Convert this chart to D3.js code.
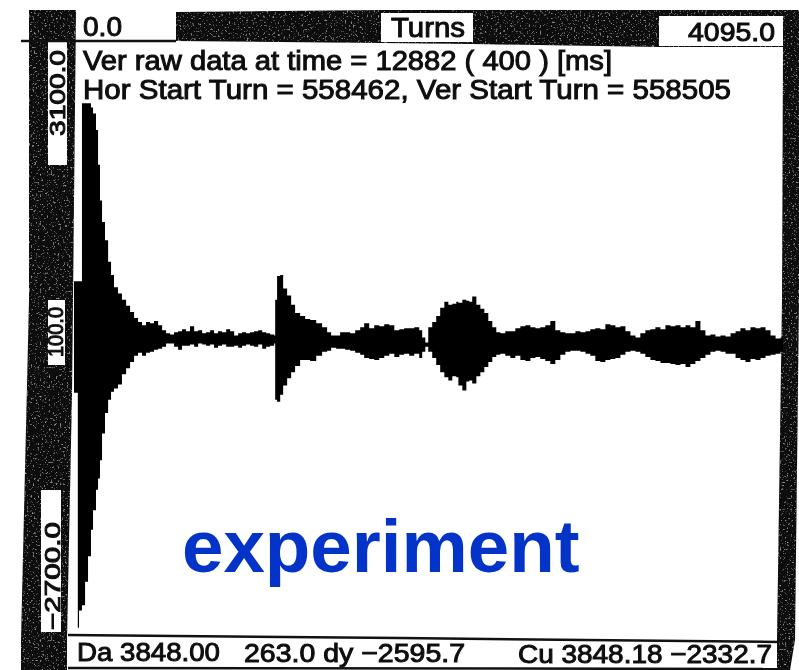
<!DOCTYPE html>
<html lang="en">
<head>
<meta charset="utf-8">
<style>
	html, body { margin: 0; padding: 0; background: #fff; }
	svg { display: block; }
	.scan { font-family: "Liberation Sans", Arial, sans-serif; fill: #111; stroke: #111; stroke-width: 1px; }
	.big { font-family: "Liberation Sans", Arial, sans-serif; font-weight: bold; fill: #0433c8; }
</style>
<script src="https://d3js.org/d3.v7.min.js"></script>
</head>
<body>
<script>
var width = 799, height = 670;

// turns, upper and lower edge of the trace
var turns = [0,22,29,46,64,81,98,110,127,139,150,162,179,197,214,231,254,277,301,324,347,370,393,416,439,462,486,509,532,555,578,601,624,647,670,694,717,740,763,786,809,832,855,879,902,925,948,971,994,1017,1040,1064,1087,1110,1133,1156,
	1162,1173,1191,1208,1231,1254,1277,1306,1335,1364,1399,1433,1462,1485,1514,1537,1566,1595,1624,1653,1676,1705,1734,1763,1792,1821,1850,1879,1907,1936,1965,1994,
	2011,2029,2046,2069,2092,2115,2139,2162,2185,2208,2220,2243,2266,2283,2300,2324,2347,2370,2393,2416,2439,2462,2491,2520,2549,2578,2607,2636,2665,2693,2722,2751,2780,2809,2838,2867,2896,2925,2954,2982,3011,3040,3069,3098,3127,3156,3185,3214,3243,3271,3300,3329,3358,3387,3416,3445,3474,3503,3532,3560,3589,3618,3647,3676,3705,3734,3763,3792,3821,3849,3878,3907,3936,3965,3994,4023,4052,4081,4095];
var upper = [770,770,770,2510,2510,2510,2470,2410,2250,1910,1560,1350,1170,960,830,710,650,590,530,470,410,370,340,370,360,380,340,290,260,250,270,280,300,280,330,280,290,260,270,290,260,280,270,300,280,240,260,270,260,270,280,290,270,260,250,240,
	590,820,830,700,630,540,460,430,400,390,360,320,270,240,240,270,270,260,290,320,360,310,340,330,350,340,290,300,310,310,320,290,220,
	170,320,370,430,510,570,540,550,570,560,590,580,570,620,540,500,460,380,320,270,260,280,280,310,330,340,320,310,320,340,380,290,270,260,260,280,270,280,300,310,300,350,340,320,330,280,240,220,260,290,300,320,300,340,330,340,320,340,320,380,290,240,250,230,240,230,260,280,310,290,320,310,320,290,240,210,220,190,190];
var lower = [-320,-2620,-2450,-2400,-2170,-1920,-1660,-1470,-1270,-1160,-980,-720,-520,-390,-310,-280,-240,-140,-80,-20,40,70,40,70,80,100,110,130,160,160,130,100,140,140,150,130,160,150,140,150,120,140,150,130,130,140,120,140,150,140,130,150,110,130,140,160,
	-390,-410,-340,-250,-180,-120,-60,0,0,-10,40,80,90,120,110,110,100,90,70,50,20,10,0,20,40,60,30,50,60,40,60,20,80,
	130,80,20,-50,-120,-170,-200,-160,-170,-250,-300,-210,-200,-230,-160,-120,-70,-20,30,50,60,40,20,40,0,-10,20,30,10,-10,-40,0,50,80,90,90,80,60,40,-10,-20,0,10,20,50,80,90,80,60,30,0,-10,-30,-30,-40,-50,-40,-70,-40,-10,20,50,80,90,80,60,60,20,0,-20,10,0,20,40,50,60,80,70,70];

var plainTexts = ["Ver raw data at time = 12882 ( 400 ) [ms]", "Hor Start Turn = 558462, Ver Start Turn = 558505"];
var xLabels = ["0.0", "Turns", "4095.0"];
var yLabels = ["3100.0", "100.0", "\u22122700.0"];
var bottomTexts = ["Da 3848.00", "263.0 dy \u22122595.7", "Cu 3848.18 \u22122332.7"];
var title = "experiment";

var x = d3.scaleLinear().domain([0, 4095]).range([74, 783]);
var y = d3.scaleLinear().domain([-2700, 3100]).range([636, 43]);

var svg = d3.select("body").append("svg")
	.attr("width", width)
	.attr("height", height);

// rough photocopy look for the dark frame
var defs = svg.append("defs");
var speckle = defs.append("filter").attr("id", "speckle")
	.attr("x", 0).attr("y", 0).attr("width", 1).attr("height", 1);
speckle.append("feTurbulence").attr("type", "fractalNoise").attr("baseFrequency", 0.55).attr("numOctaves", 2).attr("seed", 4).attr("result", "n");
speckle.append("feColorMatrix").attr("in", "n").attr("type", "matrix")
	.attr("values", "0 0 0 0 0.5  0 0 0 0 0.5  0 0 0 0 0.5  3 0 0 0 -1.85").attr("result", "s");
speckle.append("feComposite").attr("in", "s").attr("in2", "SourceAlpha").attr("operator", "in").attr("result", "c");
speckle.append("feMerge").attr("result", "m").selectAll("feMergeNode").data(["SourceGraphic", "c"]).enter()
	.append("feMergeNode").attr("in", function(d) { return d; });
speckle.append("feGaussianBlur").attr("in", "m").attr("stdDeviation", 0.5);
defs.append("filter").attr("id", "soft").append("feGaussianBlur").attr("stdDeviation", 0.55);

var frame = svg.append("g").attr("filter", "url(#speckle)");
var frameShapes = [
	[[29,10],[76,10],[73,300],[72,394],[67,640],[67,670],[21,670],[21,640],[29,300]],   // left bar
	[[176,12],[381,10],[473,10],[783,10],[799,10],[799,300],[795,640],[790,670],[777,670],[777,640],[782,300],[783,47],[659,47],[473,44],[381,43],[176,41]]  // top and right bars
];
frame.selectAll("polygon").data(frameShapes).enter().append("polygon")
	.attr("points", function(d) { return d.join(" "); })
	.attr("fill", "#0c0c0c");

// white boxes and rules on the frame
var boxes = [
	[48, 42, 19, 123], [48, 300, 17, 65], [41, 490, 20, 142],
	[381, 13, 92, 29], [659, 16, 124, 30]
];
svg.append("g").selectAll("rect").data(boxes).enter().append("rect")
	.attr("x", function(d) { return d[0]; })
	.attr("y", function(d) { return d[1]; })
	.attr("width", function(d) { return d[2]; })
	.attr("height", function(d) { return d[3]; })
	.attr("fill", "#fff");

var rules = [[[21,41],[176,41]], [[68,635],[400,638],[780,642]], [[68,668],[790,669]]];
var ruleLine = d3.line();
svg.append("g").selectAll("path").data(rules).enter().append("path")
	.attr("d", ruleLine)
	.attr("fill", "none")
	.attr("stroke", "#111")
	.attr("stroke-width", 2.5);

// the trace
var area = d3.area()
	.curve(d3.curveStepAfter)
	.x(function(d) { return x(d[0]); })
	.y0(function(d) { return y(d[2]); })
	.y1(function(d) { return y(d[1]); });

svg.append("path")
	.datum(d3.zip(turns, upper, lower))
	.attr("d", area)
	.attr("fill", "#000")
	.attr("filter", "url(#soft)");

var g = svg.append("g").attr("filter", "url(#soft)");

function put(s, px, py, size, len) {
	return g.append("text").attr("class", "scan")
		.attr("x", px).attr("y", py)
		.attr("font-size", size)
		.attr("textLength", len)
		.attr("lengthAdjust", "spacingAndGlyphs")
		.text(s);
}

put(xLabels[0], 83, 36, 27, 39);
put(xLabels[1], 391, 37, 28, 74);
put(xLabels[2], 688, 41, 26, 87);

put(plainTexts[0], 83, 70, 27, 529);
put(plainTexts[1], 83, 99, 27, 648);

put(bottomTexts[0], 77, 661, 26, 143);
put(bottomTexts[1], 244, 662, 26, 221);
put(bottomTexts[2], 518, 663, 26, 254);

// rotated labels of the vertical scale
var yPos = [[65, 136, 86], [63, 357, 50], [60, 630, 108]];
yLabels.forEach(function(s, i) {
	g.append("text").attr("class", "scan")
		.attr("transform", "translate(" + yPos[i][0] + "," + yPos[i][1] + ") rotate(-90)")
		.attr("font-size", 22)
		.attr("textLength", yPos[i][2])
		.attr("lengthAdjust", "spacingAndGlyphs")
		.text(s);
});

svg.append("text").attr("class", "big")
	.attr("x", 182).attr("y", 572)
	.attr("font-size", 74.5)
	.text(title);
</script>
</body>
</html>
